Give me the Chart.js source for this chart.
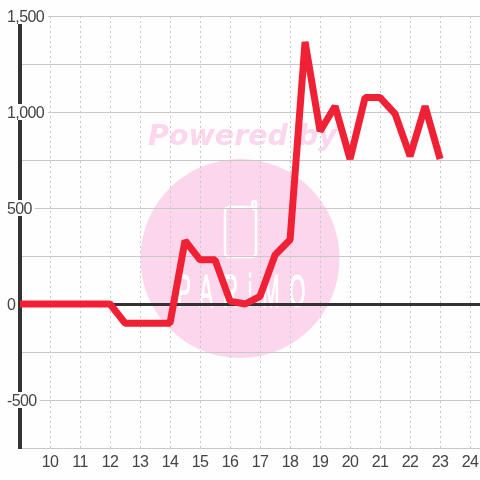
<!DOCTYPE html>
<html>
<head>
<meta charset="utf-8">
<style>
  html, body { margin: 0; padding: 0; background: #fefefe; }
  #wrap { width: 480px; height: 480px; }
</style>
<script src="https://cdn.jsdelivr.net/npm/chart.js@4"></script>
</head>
<body>
<div id="wrap"><canvas id="chart" width="480" height="480"></canvas></div>
<script>
const hours = [8.5, 9, 9.5, 10, 10.5, 11, 11.5, 12, 12.5, 13, 13.5, 14, 14.5, 15, 15.5, 16, 16.5, 17, 17.5, 18, 18.5, 19, 19.5, 20, 20.5, 21, 21.5, 22, 22.5, 23];
const levels = [0, 0, 0, 0, 0, 0, 0, 0, -100, -100, -100, -100, 330, 230, 230, 15, 0, 40, 255, 335, 1365, 900, 1030, 755, 1075, 1075, 990, 770, 1030, 755];

const gridColor = "#c8c8c8";
const axisColor = "#333333";
const textColor = "#444444";
const pageColor = "#fefefe";

const watermark = {
  id: "watermark",
  beforeDraw(chart) {
    const ctx = chart.ctx;
    ctx.save();
    ctx.fillStyle = pageColor;
    ctx.fillRect(0, 0, chart.width, chart.height);

    ctx.fillStyle = "#fcd6ec";
    ctx.font = "italic bold 28.5px 'DejaVu Sans'";
    ctx.textBaseline = "alphabetic";
    ctx.fillText("Powered by", 148, 145);

    ctx.beginPath();
    ctx.arc(240, 258.5, 99.5, 0, Math.PI * 2);
    ctx.fill();

    // phone logo
    ctx.strokeStyle = "#ffffff";
    ctx.lineWidth = 2.5;
    ctx.beginPath();
    ctx.roundRect(225, 207, 31, 50, 4);
    ctx.stroke();
    ctx.beginPath();
    ctx.roundRect(252.5, 201, 3.5, 8, 1.5);
    ctx.stroke();

    // logo lettering, squeezed sideways
    ctx.fillStyle = "#ffffff";
    ctx.strokeStyle = "#ffffff";
    ctx.lineWidth = 1.2;
    ctx.font = "46px 'Liberation Sans'";
    ctx.letterSpacing = "22px";
    ctx.translate(177, 307);
    ctx.scale(0.45, 1);
    ctx.fillText("PARiMO", 0, 0);
    ctx.strokeText("PARiMO", 0, 0);
    ctx.restore();

    ctx.letterSpacing = "-0.6px";
  },
};

new Chart(document.getElementById("chart"), {
  type: "line",
  data: {
    labels: hours,
    datasets: [
      {
        data: levels,
        borderColor: "#f02035",
        borderWidth: 7,
        borderJoinStyle: "bevel",
        pointRadius: 0,
        tension: 0,
      },
    ],
  },
  plugins: [watermark],
  options: {
    responsive: false,
    animation: false,
    layout: { padding: { top: 16, right: 0, bottom: 0, left: 0 } },
    plugins: {
      legend: { display: false },
      tooltip: { enabled: false },
    },
    scales: {
      x: {
        type: "linear",
        min: 9,
        max: 24.33,
        afterFit: (scale) => {
          scale.height = 32;
          scale.paddingLeft = 0;
          scale.paddingRight = 0;
        },
        grid: {
          color: gridColor,
          lineWidth: 1,
          drawTicks: false,
        },
        border: { color: gridColor, width: 1, dash: [2, 3], display: true },
        ticks: {
          stepSize: 1,
          includeBounds: false,
          autoSkip: false,
          maxRotation: 0,
          padding: 5,
          color: textColor,
          font: { family: "'Liberation Sans'", size: 16 },
          callback: (value) => (value === 9 ? "" : String(value)),
        },
      },
      y: {
        min: -750,
        max: 1500,
        afterFit: (scale) => {
          scale.width = 20;
          scale.paddingTop = 0;
          scale.paddingBottom = 0;
        },
        grid: {
          color: (c) => (c.tick && c.tick.value === 0 ? axisColor : gridColor),
          lineWidth: (c) => (c.tick && c.tick.value === 0 ? 3 : 1),
          drawTicks: false,
        },
        border: { color: axisColor, width: 4 },
        ticks: {
          stepSize: 250,
          autoSkip: false,
          mirror: true,
          padding: -13,
          labelOffset: 2,
          color: textColor,
          font: { family: "'Liberation Sans'", size: 16, lineHeight: "16px" },
          showLabelBackdrop: true,
          backdropColor: pageColor,
          backdropPadding: { top: 2, bottom: -2, left: 1, right: 1 },
          callback: (value) => (value % 500 === 0 ? value.toLocaleString("en-US") : ""),
        },
      },
    },
  },
});
</script>
</body>
</html>
